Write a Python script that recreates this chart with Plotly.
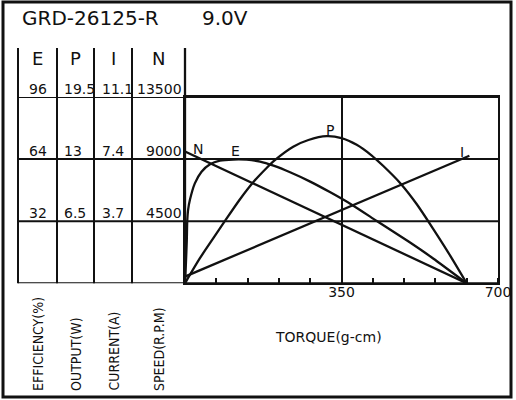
import plotly.graph_objects as go

# curvas (torque em g-cm)
torque_E = [0, 2, 4, 5, 7, 11, 22, 37, 56, 78, 108, 138, 168, 198, 235, 280, 324, 373, 429, 500, 555, 630]
efficiency = [0, 10, 22, 32, 38, 43, 51.5, 57.5, 61.3, 63.2, 63.8, 63.7, 62.7, 60.6, 57.2, 52.4, 47.0, 40.5, 32.1, 21.5, 12.8, 0]

torque_P = [0, 33, 63, 89, 123, 153, 183, 201, 242, 276, 317, 350, 384, 417, 443, 481, 518, 555, 593, 630]
output = [0, 2.6, 4.7, 6.5, 8.8, 10.6, 12.1, 12.9, 14.3, 15.0, 15.4, 15.2, 14.5, 13.4, 12.3, 10.5, 8.3, 5.7, 2.9, 0]

torque_N = [0, 630]
speed = [9550, 0]

torque_I = [0, 636]
current = [0.4, 7.6]

# valores da tabela a esquerda
E_ticks = [32, 64, 96]
E_labels = ["32", "64", "96"]
P_ticks = [6.5, 13, 19.5]
P_labels = ["6.5", "13", "19.5"]
I_ticks = [3.7, 7.4, 11.1]
I_labels = ["3.7", "7.4", "11.1"]
N_ticks = [4500, 9000, 13500]
N_labels = ["4500", "9000", "13500"]

W, H = 516, 400
def px(x): return x / W
def py(y): return 1 - y / H

X0, X1, YT, YB = 185, 498, 97, 283.3
col_x = [18, 57, 94, 132, 185]
FONT = "DejaVu Sans, Liberation Sans, sans-serif"
NARROW = "DejaVu Sans Condensed, Liberation Sans Narrow, DejaVu Sans, sans-serif"
INK = "#111111"

fig = go.Figure()
fig.add_trace(go.Scatter(x=torque_N, y=speed, mode="lines", yaxis="y", line=dict(color=INK, width=2.3)))
fig.add_trace(go.Scatter(x=torque_E, y=efficiency, mode="lines", yaxis="y2", line=dict(color=INK, width=2.3, shape="spline", smoothing=0.6)))
fig.add_trace(go.Scatter(x=torque_P, y=output, mode="lines", yaxis="y3", line=dict(color=INK, width=2.3, shape="spline", smoothing=0.8)))
fig.add_trace(go.Scatter(x=torque_I, y=current, mode="lines", yaxis="y4", line=dict(color=INK, width=2.3)))

shapes = []
# moldura externa
shapes.append(dict(type="rect", xref="paper", yref="paper", x0=px(3), x1=px(511), y0=py(397), y1=py(2),
                   line=dict(color=INK, width=3)))
# linhas verticais da tabela
for cx in col_x:
    shapes.append(dict(type="line", xref="paper", yref="paper", x0=px(cx), x1=px(cx), y0=py(48), y1=py(YB),
                       line=dict(color=INK, width=2.3 if cx == 185 else 2)))
# linhas horizontais (grade + tabela)
for v in [0] + N_ticks:
    shapes.append(dict(type="line", xref="paper", yref="y", x0=px(18), x1=px(X1), y0=v, y1=v,
                       line=dict(color=INK, width=2.3 if v == 0 else 2)))

ann = []
ann.append(dict(text="GRD-26125-R", x=px(20), y=py(18), xref="paper", yref="paper", xanchor="left", yanchor="middle",
                showarrow=False, font=dict(family=FONT, size=20, color=INK)))
ann.append(dict(text="9.0V", x=px(200), y=py(18), xref="paper", yref="paper", xanchor="left", yanchor="middle",
                showarrow=False, font=dict(family=FONT, size=20, color=INK)))
for h, cx in zip(["E", "P", "I", "N"], [37, 75, 113, 158]):
    ann.append(dict(text=h, x=px(cx), y=py(58.5), xref="paper", yref="paper", xanchor="center", yanchor="middle",
                    showarrow=False, font=dict(family=FONT, size=18, color=INK)))

def tick_col(vals, labels, yref, x, anchor):
    for v, t in zip(vals, labels):
        ann.append(dict(text=t, x=px(x), y=v, xref="paper", yref=yref, xanchor=anchor, yanchor="bottom",
                        yshift=-2, showarrow=False, font=dict(family=FONT, size=14, color=INK)))

tick_col(E_ticks, E_labels, "y2", 27, "left")
tick_col(P_ticks, P_labels, "y3", 62, "left")
tick_col(I_ticks, I_labels, "y4", 100, "left")
tick_col(N_ticks, N_labels, "y", 184, "right")

for t, cx in zip(["EFFICIENCY(%)", "OUTPUT(W)", "CURRENT(A)", "SPEED(R.P.M)"], [38, 76, 113, 159]):
    ann.append(dict(text=t, x=px(cx), y=py(393), xref="paper", yref="paper", xanchor="center", yanchor="bottom",
                    textangle=-90, showarrow=False, font=dict(family=NARROW, size=14, color=INK)))

ann.append(dict(text="TORQUE(g-cm)", x=px(273), y=py(337), xref="paper", yref="paper", xanchor="left", yanchor="middle",
                showarrow=False, font=dict(family=FONT, size=14, color=INK)))

# rotulos das curvas
for t, tx, ty in [("N", 30, 9730), ("E", 114, 9620), ("P", 324, 11110), ("I", 620, 9540)]:
    ann.append(dict(text=t, x=tx, y=ty, xref="x", yref="y", xanchor="center", yanchor="middle",
                    showarrow=False, font=dict(family=FONT, size=14, color=INK)))

hidden = dict(visible=False, overlaying="y", showgrid=False, zeroline=False)

fig.update_layout(
    width=W, height=H, autosize=False,
    margin=dict(l=0, r=0, t=0, b=0),
    paper_bgcolor="white", plot_bgcolor="white",
    showlegend=False,
    shapes=shapes, annotations=ann,
    xaxis=dict(domain=[px(X0), px(X1)], range=[0, 700], tickvals=[350, 700], showgrid=True,
               gridcolor=INK, gridwidth=2, zeroline=False, showline=True, linecolor=INK, linewidth=2,
               mirror=True, ticks="", ticklabelstandoff=-5, tickfont=dict(family=FONT, size=14, color=INK),
               automargin=False,
               minor=dict(dtick=70, tick0=0, ticks="inside", ticklen=5, tickwidth=2, tickcolor=INK, showgrid=False)),
    yaxis=dict(domain=[py(YB), py(YT)], range=[0, 13500], showgrid=False, zeroline=False, showticklabels=False,
               showline=True, linecolor=INK, linewidth=2, mirror=True, automargin=False),
    yaxis2=dict(range=[0, 96], **hidden),
    yaxis3=dict(range=[0, 19.5], **hidden),
    yaxis4=dict(range=[0, 11.1], **hidden),
)

# tira a margem padrao do body para o grafico ficar em (0, 0)
fig.write_html("out.html", config={"displayModeBar": False},
               post_script="document.body.style.margin='0';")
